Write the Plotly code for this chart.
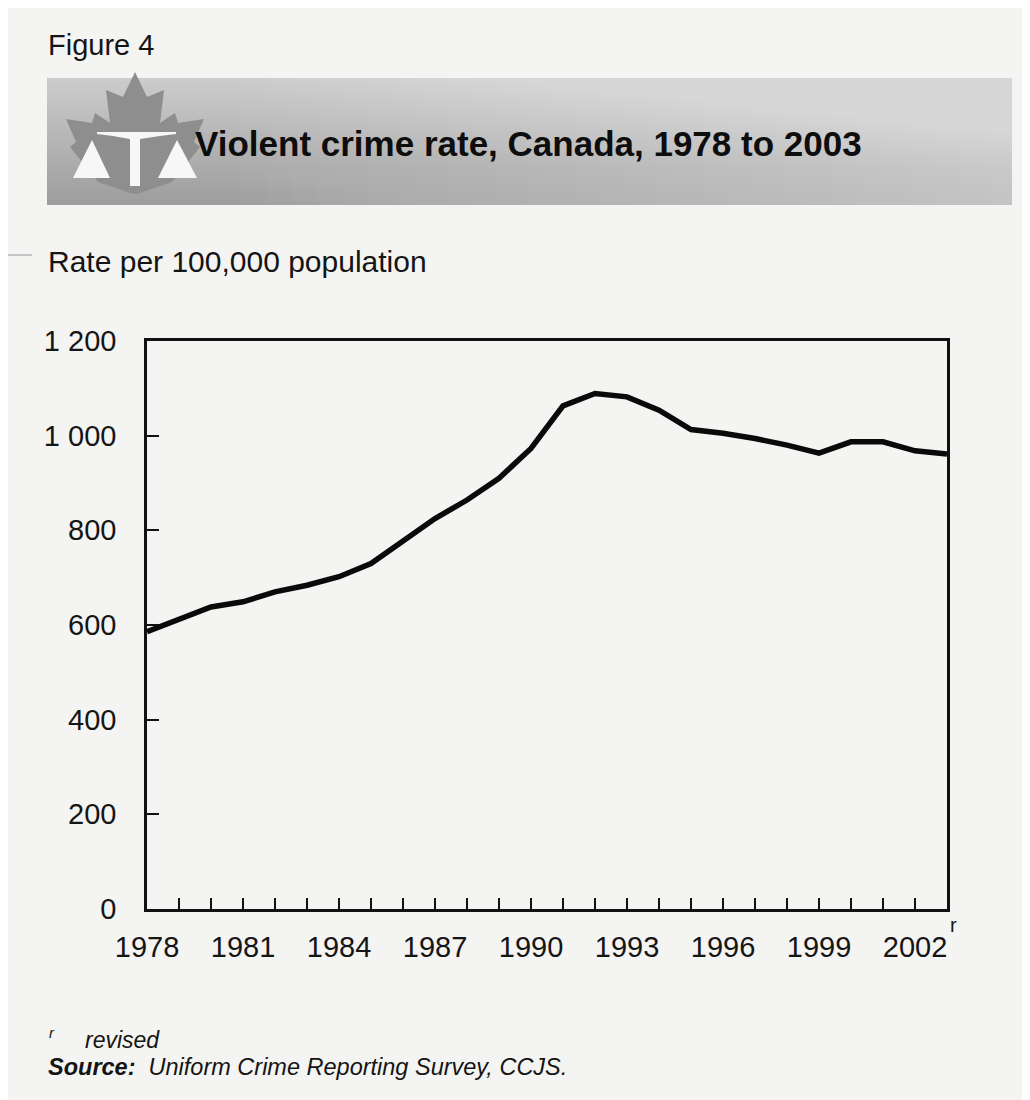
import plotly.graph_objects as go

# ---- data ----
years = list(range(1978, 2004))
rate = [586, 612, 638, 649, 670, 684, 702, 730, 776, 825, 864, 910, 973,
        1063, 1089, 1082, 1054, 1013, 1005, 994, 980, 963, 987, 987, 968, 961]
xtick_vals = [1978, 1981, 1984, 1987, 1990, 1993, 1996, 1999, 2002]
xtick_text = ["1978", "1981", "1984", "1987", "1990", "1993", "1996", "1999", "2002"]
ytick_vals = [0, 200, 400, 600, 800, 1000, 1200]
ytick_text = ["0", "200", "400", "600", "800", "1 000", "1 200"]

# page is shown with an 8px body margin; build the figure in a shifted frame
OFF = 8
W, H = 1030 - OFF, 1100 - OFF
AX_L, AX_R, AX_T, AX_B = 147, 947, 341, 909          # reference-frame pixels
L, T = AX_L - OFF, AX_T - OFF
PW, PH = AX_R - AX_L, AX_B - AX_T
R, B = W - L - PW, H - T - PH
BG = "#f4f4f2"
FONT = "Liberation Sans, Arial, Helvetica, sans-serif"


def X(px):
    return (px - AX_L) / PW


def Y(py):
    return (AX_B - py) / PH


def path(points):
    return "M " + " L ".join(f"{X(a):.5f},{Y(b):.5f}" for a, b in points) + " Z"


fig = go.Figure()
fig.add_trace(go.Scatter(x=years, y=rate, mode="lines",
                         line=dict(color="#0a0a0a", width=5.5),
                         hoverinfo="x+y", showlegend=False))

shapes = []
# banner: vertical gradient, each strip runs to the bottom to hide seams
top, bot, left, right = 78, 205, 47, 1012
n = 40
for i in range(n):
    y0 = top + (bot - top) * i / n
    t = i / (n - 1)
    g = int(204 - t * 46)
    shapes.append(dict(type="rect", xref="paper", yref="paper",
                       x0=X(left), x1=X(right), y0=Y(bot), y1=Y(y0),
                       fillcolor=f"rgb({g},{g},{g})", line=dict(width=0), layer="below"))
# lightening toward the right (cumulative overlays)
m = 30
for j in range(m):
    x0 = left + (right - left) * (0.2 + 0.8 * j / m)
    shapes.append(dict(type="rect", xref="paper", yref="paper",
                       x0=X(x0), x1=X(right), y0=Y(bot), y1=Y(top),
                       fillcolor="white", opacity=0.022, line=dict(width=0), layer="below"))

# maple leaf
leaf = [(135, 72), (147, 97), (164, 90), (160, 123), (175, 113), (178, 123), (204, 119),
        (194, 142), (200, 147), (172, 182), (137, 194), (133, 194),
        (98, 182), (70, 147), (76, 142), (66, 119), (92, 123), (95, 113), (110, 123),
        (106, 90), (123, 97)]
shapes.append(dict(type="path", xref="paper", yref="paper", path=path(leaf),
                   fillcolor="#8e8e8e", line=dict(width=0), layer="below"))
# scales of justice (white)
for tri in ([(73, 178), (92, 140), (110, 178)], [(158, 178), (177, 140), (197, 178)]):
    shapes.append(dict(type="path", xref="paper", yref="paper", path=path(tri),
                       fillcolor="#f7f7f7", line=dict(width=0), layer="below"))
tee = [(97, 132), (176, 132), (176, 134), (160, 136), (140, 139), (140, 186), (130, 186),
       (130, 139), (113, 136), (97, 134)]
shapes.append(dict(type="path", xref="paper", yref="paper", path=path(tee),
                   fillcolor="#f7f7f7", line=dict(width=0), layer="below"))
# small scan mark at left edge
shapes.append(dict(type="line", xref="paper", yref="paper", x0=X(8), x1=X(32),
                   y0=Y(255), y1=Y(255), line=dict(color="#b5b5b5", width=1.5)))

annotations = [
    dict(text="Figure 4", x=X(46), y=Y(45), xanchor="left", yanchor="middle",
         font=dict(family=FONT, size=29, color="#151515")),
    dict(text="<b>Violent crime rate, Canada, 1978 to 2003</b>", x=X(193), y=Y(144),
         xanchor="left", yanchor="middle",
         font=dict(family=FONT, size=35, color="#0d0d0d")),
    dict(text="Rate per 100,000 population", x=X(46), y=Y(261), xanchor="left",
         yanchor="middle", font=dict(family=FONT, size=30, color="#151515")),
    dict(text="r", x=X(948), y=Y(925), xanchor="left", yanchor="middle",
         font=dict(family=FONT, size=20, color="#151515")),
    dict(text="<i>r</i>", x=X(47), y=Y(1032), xanchor="left", yanchor="middle",
         font=dict(family=FONT, size=15, color="#151515")),
    dict(text="<i>revised</i>", x=X(83), y=Y(1040), xanchor="left", yanchor="middle",
         font=dict(family=FONT, size=23, color="#151515")),
    dict(text="<b><i>Source:</i></b>  <i>Uniform Crime Reporting Survey, CCJS.</i>",
         x=X(46), y=Y(1067), xanchor="left", yanchor="middle",
         font=dict(family=FONT, size=23.5, color="#151515")),
]
for a in annotations:
    a.update(xref="paper", yref="paper", showarrow=False)

fig.update_layout(
    width=W, height=H,
    margin=dict(l=L, r=R, t=T, b=B, pad=0),
    paper_bgcolor=BG, plot_bgcolor=BG,
    shapes=shapes, annotations=annotations,
    showlegend=False,
    xaxis=dict(range=[1978, 2003], tickvals=xtick_vals, ticktext=xtick_text,
               ticks="inside", ticklen=11, tickwidth=2, tickcolor="#111",
               minor=dict(dtick=1, tick0=1978, ticks="inside", ticklen=11,
                          tickwidth=2, tickcolor="#111", showgrid=False),
               showline=True, linecolor="#111", linewidth=2.5, mirror=True,
               showgrid=False, zeroline=False, ticklabelstandoff=10,
               tickfont=dict(family=FONT, size=29, color="#151515")),
    yaxis=dict(range=[0, 1200], tickvals=ytick_vals, ticktext=ytick_text,
               ticks="inside", ticklen=12, tickwidth=2, tickcolor="#111",
               showline=True, linecolor="#111", linewidth=2.5, mirror=True,
               showgrid=False, zeroline=False, ticklabelstandoff=22,
               tickfont=dict(family=FONT, size=29, color="#151515")),
)

fig.write_html("out.html")
